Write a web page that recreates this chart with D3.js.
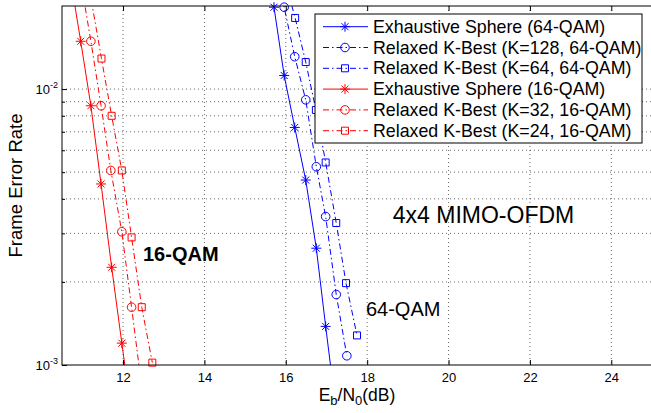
<!DOCTYPE html>
<html>
<head>
<meta charset="utf-8">
<script src="https://cdn.jsdelivr.net/npm/d3@7"></script>
<style>
  body { margin: 0; background: #fff; }
  text { font-family: "Liberation Sans", Arial, Helvetica, sans-serif; }
  .grid line { stroke: #000; stroke-width: 0.6; stroke-dasharray: 1,3; }
</style>
</head>
<body>
<svg width="651" height="413"></svg>
<script>
var svg = d3.select("svg"),
    width = +svg.attr("width"),
    height = +svg.attr("height");

// Eb/N0 (dB) and frame error rate for each detector
var es64X   = [15.46, 15.71, 15.96, 16.22, 16.49, 16.75, 16.98, 17.23];
var es64Fer = [0.033, 0.0198, 0.0112, 0.00726, 0.00468, 0.00265, 0.00138, 0.0007];
var kb128X   = [15.71, 15.96, 16.22, 16.49, 16.75, 16.98, 17.24, 17.50];
var kb128Fer = [0.03, 0.0198, 0.0131, 0.00914, 0.00523, 0.00345, 0.0018, 0.00108];
var kb64X   = [15.97, 16.23, 16.49, 16.74, 16.98, 17.24, 17.48, 17.75];
var kb64Fer = [0.025, 0.0181, 0.01253, 0.0084, 0.00542, 0.00327, 0.00198, 0.00128];
var es16X   = [10.71, 10.96, 11.21, 11.46, 11.72, 11.97, 12.22];
var es16Fer = [0.025, 0.0149, 0.0087, 0.00453, 0.00226, 0.0012, 0.00065];
var kb32X   = [10.96, 11.21, 11.46, 11.70, 11.97, 12.21, 12.46];
var kb32Fer = [0.0247, 0.0149, 0.0087, 0.00507, 0.00304, 0.00162, 0.00083];
var kb24X   = [11.22, 11.47, 11.72, 11.97, 12.21, 12.46, 12.72];
var kb24Fer = [0.021, 0.0129, 0.0080, 0.00507, 0.0029, 0.00162, 0.00102];

var seriesNames = [
  "Exhaustive Sphere (64-QAM)",
  "Relaxed K-Best (K=128, 64-QAM)",
  "Relaxed K-Best (K=64, 64-QAM)",
  "Exhaustive Sphere (16-QAM)",
  "Relaxed K-Best (K=32, 16-QAM)",
  "Relaxed K-Best (K=24, 16-QAM)"
];
var seriesX = [es64X, kb128X, kb64X, es16X, kb32X, kb24X];
var seriesFer = [es64Fer, kb128Fer, kb64Fer, es16Fer, kb32Fer, kb24Fer];
var seriesColor = ["#0000ff", "#0000ff", "#0000ff", "#ff0000", "#ff0000", "#ff0000"];
var seriesMarker = ["star", "circle", "square", "star", "circle", "square"];
var seriesDash = [null, "6,3,1.5,3", "6,3,1.5,3", null, "6,3,1.5,3", "6,3,1.5,3"];

var xTicks = [12, 14, 16, 18, 20, 22, 24];
var yMajor = [1e-3, 1e-2];
var yMinor = [2e-3, 3e-3, 4e-3, 5e-3, 6e-3, 7e-3, 8e-3, 9e-3];

var margin = {left: 62, top: 6, right: 652, bottom: 365};

var x = d3.scaleLinear().domain([10.5, 25]).range([margin.left, margin.right]);
var y = d3.scaleLog().domain([1e-3, 2e-2]).range([margin.bottom, margin.top]);

svg.append("rect").attr("width", width).attr("height", height).attr("fill", "#fff");

svg.append("defs").append("clipPath").attr("id", "plot")
  .append("rect")
    .attr("x", margin.left).attr("y", margin.top)
    .attr("width", margin.right - margin.left).attr("height", margin.bottom - margin.top);

// dotted grid
var grid = svg.append("g").attr("class", "grid");
grid.selectAll("line.gx")
  .data(xTicks)
  .enter().append("line")
    .attr("x1", function(d) { return x(d); })
    .attr("x2", function(d) { return x(d); })
    .attr("y1", margin.top)
    .attr("y2", margin.bottom);
grid.selectAll("line.gy")
  .data(yMinor.concat([1e-2]))
  .enter().append("line")
    .attr("x1", margin.left)
    .attr("x2", margin.right)
    .attr("y1", function(d) { return y(d); })
    .attr("y2", function(d) { return y(d); });

// curves
var line = d3.line()
    .x(function(d) { return x(d[0]); })
    .y(function(d) { return y(d[1]); });

var plot = svg.append("g").attr("clip-path", "url(#plot)");

function markerPath(type) {
  if (type == "star") {
    return "M-5,0L5,0M0,-5L0,5M-3.5,-3.5L3.5,3.5M-3.5,3.5L3.5,-3.5";
  }
  if (type == "square") {
    return "M-3.5,-3.5H3.5V3.5H-3.5Z";
  }
  return "M-4.3,0A4.3,4.3 0 1,0 4.3,0A4.3,4.3 0 1,0 -4.3,0Z";
}

var markers = svg.append("g");

for (var i = 0; i < seriesNames.length; i++) {
  var pts = seriesX[i].map(function(v, j) { return [v, seriesFer[i][j]]; });

  plot.append("path")
    .datum(pts)
    .attr("d", line)
    .attr("fill", "none")
    .attr("stroke", seriesColor[i])
    .attr("stroke-width", 1)
    .attr("stroke-dasharray", seriesDash[i]);

  markers.selectAll(null)
    .data(pts.filter(function(d) { return d[1] >= 1e-3 && d[1] <= 2e-2; }))
    .enter().append("path")
      .attr("transform", function(d) { return "translate(" + x(d[0]) + "," + y(d[1]) + ")"; })
      .attr("d", markerPath(seriesMarker[i]))
      .attr("fill", "none")
      .attr("stroke", seriesColor[i])
      .attr("stroke-width", 1);
}

// axes frame and ticks
var frame = svg.append("g").attr("stroke", "#000").attr("stroke-width", 1).attr("fill", "none");
frame.append("rect")
  .attr("x", margin.left).attr("y", margin.top)
  .attr("width", margin.right - margin.left).attr("height", margin.bottom - margin.top);

var xAxis = svg.append("g")
    .attr("transform", "translate(0," + margin.bottom + ")")
    .call(d3.axisBottom(x).tickValues(xTicks).tickSize(-5).tickSizeOuter(0).tickPadding(8));
xAxis.select(".domain").remove();
xAxis.selectAll("text").attr("font-size", 13).attr("font-family", null);

var xTop = svg.append("g")
    .attr("transform", "translate(0," + margin.top + ")")
    .call(d3.axisTop(x).tickValues(xTicks).tickSize(-5).tickSizeOuter(0).tickFormat(""));
xTop.select(".domain").remove();

var yAxis = svg.append("g")
    .attr("transform", "translate(" + margin.left + ",0)")
    .call(d3.axisLeft(y).tickValues(yMajor).tickSize(-5).tickSizeOuter(0).tickFormat(""));
yAxis.select(".domain").remove();

var yMinorAxis = svg.append("g")
    .attr("transform", "translate(" + margin.left + ",0)")
    .call(d3.axisLeft(y).tickValues(yMinor).tickSize(-3).tickSizeOuter(0).tickFormat(""));
yMinorAxis.select(".domain").remove();

var yLabels = svg.append("g")
  .selectAll("text")
  .data(yMajor)
  .enter().append("text")
    .attr("x", 58)
    .attr("y", function(d) { return y(d) + 5; })
    .attr("text-anchor", "end")
    .attr("font-size", 13);
yLabels.append("tspan").text("10");
yLabels.append("tspan")
    .attr("font-size", 9)
    .attr("dy", -6)
    .text(function(d) { return "-" + Math.round(-Math.log10(d)); });

// axis labels
var xLabel = svg.append("text")
    .attr("x", (margin.left + margin.right) / 2)
    .attr("y", 401)
    .attr("text-anchor", "middle")
    .attr("font-size", 17.5);
xLabel.append("tspan").text("E");
xLabel.append("tspan").attr("font-size", 13).attr("dy", 4).text("b");
xLabel.append("tspan").attr("dy", -4).text("/N");
xLabel.append("tspan").attr("font-size", 13).attr("dy", 4).text("0");
xLabel.append("tspan").attr("dy", -4).text("(dB)");

svg.append("text")
    .attr("transform", "translate(22," + (margin.top + margin.bottom) / 2 + ") rotate(-90)")
    .attr("text-anchor", "middle")
    .attr("font-size", 18.5)
    .text("Frame Error Rate");

// annotations
svg.append("text")
    .attr("x", x(18.63)).attr("y", y(0.00327))
    .attr("font-size", 23)
    .text("4x4 MIMO-OFDM");
svg.append("text")
    .attr("x", x(17.97)).attr("y", y(0.00151))
    .attr("font-size", 20)
    .text("64-QAM");
svg.append("text")
    .attr("x", x(12.49)).attr("y", y(0.00238))
    .attr("font-size", 20)
    .attr("font-weight", "bold")
    .text("16-QAM");

// legend
var legend = svg.append("g");
legend.append("rect")
    .attr("x", 315).attr("y", 14)
    .attr("width", 327).attr("height", 129)
    .attr("fill", "#fff")
    .attr("stroke", "#000")
    .attr("stroke-width", 1);

var entry = legend.selectAll("g.entry")
  .data(seriesNames)
  .enter().append("g")
    .attr("transform", function(d, i) { return "translate(0," + (26.7 + i * 20.8) + ")"; });

entry.append("line")
    .attr("x1", 323).attr("x2", 368)
    .attr("stroke", function(d, i) { return seriesColor[i]; })
    .attr("stroke-dasharray", function(d, i) { return seriesDash[i]; });
entry.append("path")
    .attr("transform", "translate(345,0)")
    .attr("d", function(d, i) { return markerPath(seriesMarker[i]); })
    .attr("fill", "none")
    .attr("stroke", function(d, i) { return seriesColor[i]; });
entry.append("text")
    .attr("x", 373)
    .attr("y", 6)
    .attr("font-size", 17.8)
    .text(function(d) { return d; });
</script>
</body>
</html>
